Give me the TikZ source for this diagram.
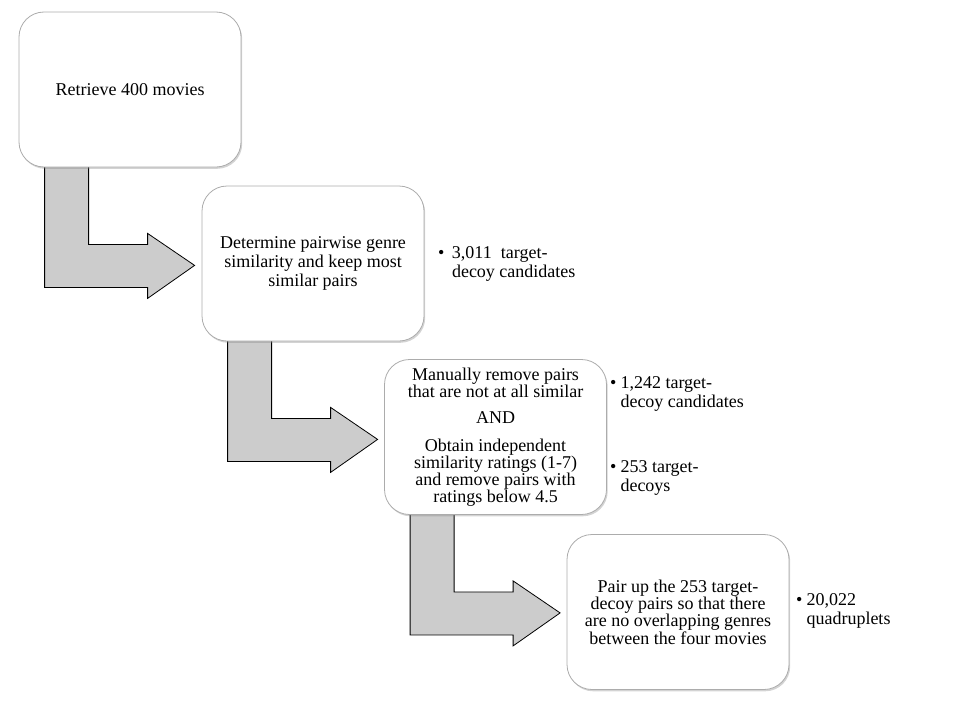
\documentclass[tikz,border=0pt]{standalone}
\usepackage{fontspec}
\setmainfont{Liberation Serif}
\usetikzlibrary{calc,shadows}
\pgfdeclarelayer{background}
\pgfsetlayers{background,main}
\begin{document}
\begin{tikzpicture}[x=1pt,y=-1pt,
  box/.style={draw=gray!65, line width=0.8pt, fill=white, rounded corners=25pt,
    minimum width=222pt, minimum height=155pt, inner sep=0pt, align=center,
    drop shadow={shadow xshift=1.2pt, shadow yshift=-1.8pt, opacity=0.35, fill=gray}},
  bent/.style={draw=black, line width=0.8pt, fill=black!20, line join=miter},
  note/.style={anchor=west, inner sep=0pt, align=left, font=\fontsize{18}{19.5}\selectfont}]
\useasboundingbox (0,0) rectangle (960,720);
\node[box, font=\fontsize{18}{19.3}\selectfont] (b1) at (130,89.5) {Retrieve 400 movies};
\node[box, font=\fontsize{18}{19.3}\selectfont] (b2) at (313,263.5) {Determine pairwise genre\\similarity and keep most\\similar pairs};
\node[box, font=\fontsize{18}{16.8}\selectfont] (b3) at (495.5,437) {Manually remove pairs\\that are not at all similar\\[9pt]AND\\[12pt]Obtain independent\\similarity ratings (1-7)\\and remove pairs with\\ratings below 4.5};
\node[box, font=\fontsize{18}{17.3}\selectfont] (b4) at (678,612) {Pair up the 253 target-\\decoy pairs so that there\\are no overlapping genres\\between the four movies};
\begin{pgfonlayer}{background}
\foreach \b in {b1,b2,b3}{
  \draw[bent] ($(\b.south west)+(26,-5)$) -- ++(0,125) -- ++(103,0) -- ++(0,11)
    -- ++(47,-33) -- ++(-47,-32) -- ++(0,11) -- ++(-59,0) -- ++(0,-82) -- cycle;
}
\end{pgfonlayer}
\node[note] (n1) at (438,264) {\begin{tabular}{@{}l@{\hspace{7.5pt}}l@{}}• & 3,011\ \ target-\\ & decoy candidates\end{tabular}};
\node[note] (n2) at (610,394) {\begin{tabular}{@{}l@{\hspace{4pt}}l@{}}• & 1,242 target-\\ & decoy candidates\end{tabular}};
\node[note] (n3) at (610,478) {\begin{tabular}{@{}l@{\hspace{4pt}}l@{}}• & 253 target-\\ & decoys\end{tabular}};
\node[note] (n4) at (796,611) {\begin{tabular}{@{}l@{\hspace{4pt}}l@{}}• & 20,022\\ & quadruplets\end{tabular}};
\end{tikzpicture}
\end{document}
